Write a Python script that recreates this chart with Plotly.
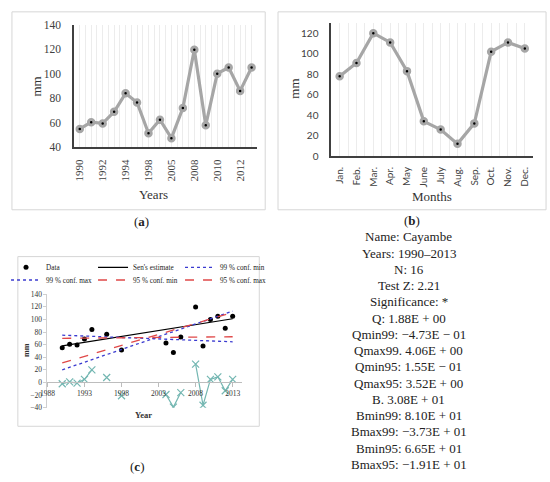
import plotly.graph_objects as go

W, H = 550, 482
def fx(px): return px / W
def fy(py): return 1 - py / H

SERIF = "Liberation Serif"
SANS = "Lato"

# ---- Panel (a): annual values ----
years_a = ["1990", "1991", "1992", "1993", "1994", "1996", "1998", "2004",
           "2005", "2006", "2008", "2009", "2010", "2011", "2012", "2013"]
precip_a = [55, 60.5, 59.5, 69, 84, 76.5, 51.5, 62.5, 47.5, 72, 119.5, 58, 100, 105, 86, 105]

# ---- Panel (b): monthly values ----
months_b = ["Jan.", "Feb.", "Mar.", "Apr.", "May", "June", "July", "Aug.",
            "Sep.", "Oct.", "Nov.", "Dec."]
precip_b = [78, 91, 120, 111, 83, 34, 26, 12, 32, 102, 111, 105]

# ---- Panel (c): Sen's slope ----
years_c = [1990, 1991, 1992, 1993, 1994, 1996, 1998, 2004, 2005, 2006, 2008, 2009, 2010, 2011, 2012, 2013]
data_c = precip_a
resid_years = [1990, 1991, 1992, 1993, 1994, 1995, 1996, 1997, 1998, 1999, 2004, 2005, 2006, 2007,
               2008, 2009, 2010, 2011, 2012, 2013]
resid_vals = [-2, 1, -1, 5, 20, None, 8, None, -21, None, -19, -39, -16, None,
              29, -36, 5, 9, -13, 5]
trend_years = [1990, 2013]
sen_est = [58, 101]
c99_min = [75, 64.5]
c99_max = [20, 113]
c95_min = [70, 72.5]
c95_max = [31, 111]

stat_lines = ["Name: Cayambe", "Years: 1990–2013", "N: 16", "Test Z: 2.21", "Significance: *",
              "Q: 1.88E + 00", "Qmin99: −4.73E − 01", "Qmax99. 4.06E + 00", "Qmin95: 1.55E − 01",
              "Qmax95: 3.52E + 00", "B. 3.08E + 01", "Bmin99: 8.10E + 01", "Bmax99: −3.73E + 01",
              "Bmin95: 6.65E + 01", "Bmax95: −1.91E + 01"]

LINE_GRAY = "#a6a6a6"
GRID = "#ececec"
AX = "#404040"

fig = go.Figure()

idx_a = list(range(len(years_a)))
fig.add_trace(go.Scatter(x=idx_a, y=precip_a, mode="lines+markers", xaxis="x", yaxis="y",
                         line=dict(color=LINE_GRAY, width=3.2),
                         marker=dict(size=5.5, color="black", line=dict(color=LINE_GRAY, width=3)),
                         showlegend=False))
idx_b = list(range(len(months_b)))
fig.add_trace(go.Scatter(x=idx_b, y=precip_b, mode="lines+markers", xaxis="x2", yaxis="y2",
                         line=dict(color=LINE_GRAY, width=3.2),
                         marker=dict(size=5.5, color="black", line=dict(color=LINE_GRAY, width=3)),
                         showlegend=False))

# panel c traces
fig.add_trace(go.Scatter(x=resid_years, y=resid_vals, mode="lines+markers", xaxis="x3", yaxis="y3",
                         line=dict(color="#74b7b2", width=1.2), connectgaps=False,
                         marker=dict(symbol="x-thin", size=7, line=dict(color="#74b7b2", width=1.2)),
                         showlegend=False))
fig.add_trace(go.Scatter(x=years_c, y=data_c, mode="markers", name="Data", xaxis="x3", yaxis="y3",
                         marker=dict(size=5, color="black"), legend="legend"))
fig.add_trace(go.Scatter(x=trend_years, y=sen_est, mode="lines", name="Sen's estimate", xaxis="x3", yaxis="y3",
                         line=dict(color="black", width=1.2), legend="legend"))
fig.add_trace(go.Scatter(x=trend_years, y=c99_min, mode="lines", name="99 % conf. min", xaxis="x3", yaxis="y3",
                         line=dict(color="#3b3bd0", width=1.3, dash="dot"), legend="legend"))
fig.add_trace(go.Scatter(x=trend_years, y=c99_max, mode="lines", name="99 % conf. max", xaxis="x3", yaxis="y3",
                         line=dict(color="#3b3bd0", width=1.3, dash="dot"), legend="legend2"))
fig.add_trace(go.Scatter(x=trend_years, y=c95_min, mode="lines", name="95 % conf. min", xaxis="x3", yaxis="y3",
                         line=dict(color="#e04848", width=1.3, dash="dash"), legend="legend2"))
fig.add_trace(go.Scatter(x=trend_years, y=c95_max, mode="lines", name="95 % conf. max", xaxis="x3", yaxis="y3",
                         line=dict(color="#e04848", width=1.3, dash="dash"), legend="legend2"))

leg_common = dict(orientation="h", xanchor="left", yanchor="middle", entrywidth=42,
                  entrywidthmode="pixels", font=dict(family=SERIF, size=7.2, color="#222"),
                  bgcolor="rgba(0,0,0,0)", itemwidth=30, tracegroupgap=0)

fig.update_layout(
    width=W, height=H, margin=dict(l=0, r=0, t=0, b=0),
    paper_bgcolor="white", plot_bgcolor="white",
    legend=dict(x=fx(-2), y=fy(268), **leg_common),
    legend2=dict(x=fx(-2), y=fy(281), **leg_common),
    xaxis=dict(domain=[fx(67), fx(253)], range=[-0.5, len(years_a) - 0.5], anchor="y",
               tickmode="array", tickvals=idx_a[::2], ticktext=years_a[::2], tickangle=-90,
               showline=True, linecolor=AX, linewidth=1.5, showgrid=True, gridcolor=GRID, gridwidth=1,
               minor=dict(tick0=-0.5, dtick=0.5, showgrid=True, gridcolor=GRID, gridwidth=1, ticks=""),
               ticks="outside", ticklen=6, tickcolor="rgba(0,0,0,0)", zeroline=False,
               tickfont=dict(family=SERIF, size=11, color=AX), fixedrange=True),
    yaxis=dict(domain=[fy(145), fy(19)], range=[40, 140], dtick=20, anchor="x",
               showline=True, linecolor=AX, linewidth=1.5, showgrid=False, zeroline=False,
               ticks="outside", ticklen=9, tickcolor="rgba(0,0,0,0)",
               tickfont=dict(family=SERIF, size=11.5, color=AX)),
    xaxis2=dict(domain=[fx(328), fx(533)], range=[-0.5, len(months_b) - 0.5], anchor="y2",
                tickmode="array", tickvals=idx_b, ticktext=months_b, tickangle=-90,
                showline=True, linecolor=AX, linewidth=1.5, showgrid=True, gridcolor=GRID, gridwidth=1,
                minor=dict(tick0=-0.5, dtick=0.5, showgrid=True, gridcolor=GRID, gridwidth=1, ticks=""),
                ticks="outside", ticklen=5, tickcolor="rgba(0,0,0,0)", zeroline=False,
                tickfont=dict(family=SANS, size=10, color=AX)),
    yaxis2=dict(domain=[fy(154), fy(17.4)], range=[0, 130], tickvals=[0, 20, 40, 60, 80, 100, 120],
                anchor="x2", showline=True, linecolor=AX, linewidth=1.5, showgrid=False, zeroline=False,
                ticks="outside", ticklen=9, tickcolor="rgba(0,0,0,0)",
                tickfont=dict(family=SANS, size=10, color=AX)),
    xaxis3=dict(domain=[fx(40), fx(237)], range=[1988, 2014.2], anchor="free", position=fy(386),
                tickvals=[1988, 1993, 1998, 2003, 2008, 2013],
                showline=True, linecolor="#bdbdbd", linewidth=1, showgrid=False, zeroline=False,
                ticks="outside", ticklen=4, tickcolor="#bdbdbd",
                tickfont=dict(family=SERIF, size=7.5, color="#333")),
    yaxis3=dict(domain=[fy(412), fy(295.5)], range=[-40, 140], dtick=20, anchor="x3",
                showline=True, linecolor="#cfcfcf", linewidth=1, showgrid=False, zeroline=False,
                ticks="outside", ticklen=3, tickcolor="#cfcfcf",
                tickfont=dict(family=SERIF, size=7.5, color="#333")),
)

# panel frames
for (x0, y0, x1, y1) in [(4, 6, 261, 209), (274, 6, 546, 209), (10, 257, 255, 431)]:
    fig.add_shape(type="rect", xref="paper", yref="paper", x0=fx(x0), x1=fx(x1), y0=fy(y1), y1=fy(y0),
                  line=dict(color="#d6d6d6", width=1), fillcolor="rgba(0,0,0,0)", layer="below")

def ann(text, px, py, size, family=SERIF, angle=0, color="#222"):
    fig.add_annotation(text=text, x=fx(px), y=fy(py), xref="paper", yref="paper",
                       xanchor="center", yanchor="middle", showarrow=False, textangle=angle,
                       font=dict(family=family, size=size, color=color))

# axis titles
ann("mm", 29, 83, 13, angle=-90, color="#333")
ann("Years", 148, 193, 13, color="#333")
ann("mm", 291, 85, 13, angle=-90, color="#333")
ann("Months", 430, 195, 13, color="#333")
ann("<b>mm</b>", 18, 353, 8, angle=-90, color="#333")
ann("<b>Year</b>", 138, 419, 8.5, color="#333")

# panel labels
ann("(<b>a</b>)", 135, 221, 13)
ann("(<b>b</b>)", 410, 220, 13)
ann("(<b>c</b>)", 131, 472, 13)

# statistics block
for i, line in enumerate(stat_lines):
    ann(line, 406.5, 236.7 + i * 16.67, 13)

fig.write_html("out.html", config={"displayModeBar": False},
               post_script="document.body.style.margin='0';document.body.style.overflow='hidden';")
